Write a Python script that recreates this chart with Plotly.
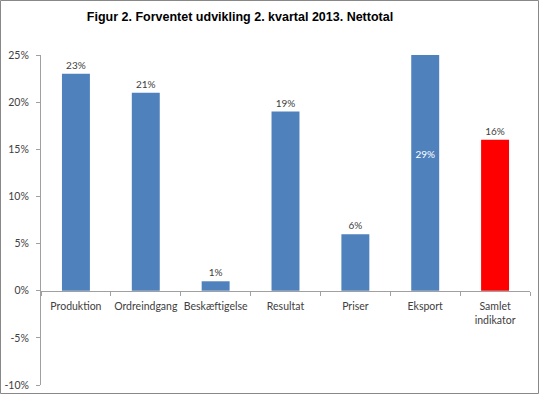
import plotly.graph_objects as go

categories = ["Produktion", "Ordreindgang", "Beskæftigelse", "Resultat", "Priser", "Eksport", "Samlet<br>indikator"]
values = [23, 21, 1, 19, 6, 29, 16]
colors = ["#4F81BD"] * 6 + ["#FF0000"]
text_pos = ["outside"] * 5 + ["inside", "outside"]
y_ticks = [-10, -5, 0, 5, 10, 15, 20, 25]
y_min, y_max = -10, 25

W, H = 540, 394
ml, mr, mt, mb = 41, 10, 55, 9

fig = go.Figure()
fig.add_trace(go.Bar(
    x=categories, y=values,
    marker=dict(color=colors, line=dict(width=0)),
    width=0.4,
    text=[f"{v}%" for v in values],
    textposition=text_pos,
    insidetextanchor="middle",
    textfont=dict(family="Lato", size=10),
    outsidetextfont=dict(family="Lato", size=10, color="#404040"),
    insidetextfont=dict(family="Lato", size=10, color="white"),
    cliponaxis=True,
    constraintext="none",
))

fig.update_layout(
    width=W, height=H,
    margin=dict(l=ml, r=mr, t=mt, b=mb, autoexpand=False),
    paper_bgcolor="white", plot_bgcolor="white",
    showlegend=False,
    uniformtext=dict(mode=False),
    title=dict(text="<b>Figur 2. Forventet udvikling 2. kvartal 2013. Nettotal</b>",
               font=dict(family="Liberation Sans", size=12.5, color="black"),
               x=240 / W, xanchor="center", y=1 - 17 / H, yanchor="middle",
               automargin=False),
    xaxis=dict(
        anchor="free", position=(0 - y_min) / (y_max - y_min), automargin=False,
        showline=True, linecolor="#A0A0A0", linewidth=1,
        ticks="outside", ticklen=4, tickcolor="#A0A0A0", tickson="boundaries",
        tickangle=0, ticklabelstandoff=6,
        tickfont=dict(family="Lato", size=10.5, color="#404040"),
        showgrid=False, zeroline=False,
    ),
    yaxis=dict(
        range=[y_min, y_max], tickvals=y_ticks, ticktext=[f"{t}%" for t in y_ticks],
        automargin=False, ticklabelstandoff=5,
        showline=True, linecolor="#A0A0A0", linewidth=1,
        ticks="outside", ticklen=4, tickcolor="#A0A0A0",
        tickfont=dict(family="Lato", size=10.5, color="#404040"),
        showgrid=False, zeroline=False,
    ),
    shapes=[dict(type="rect", xref="paper", yref="paper",
                 x0=-(ml - 0.5) / (W - ml - mr), x1=1 + (mr - 1.5) / (W - ml - mr),
                 y0=-(mb - 0.5) / (H - mt - mb), y1=1 + (mt - 0.5) / (H - mt - mb),
                 line=dict(color="#888888", width=1))],
)

fig.write_html("out.html", config={"displayModeBar": False},
               post_script="document.body.style.margin='0';document.body.style.padding='0';")
